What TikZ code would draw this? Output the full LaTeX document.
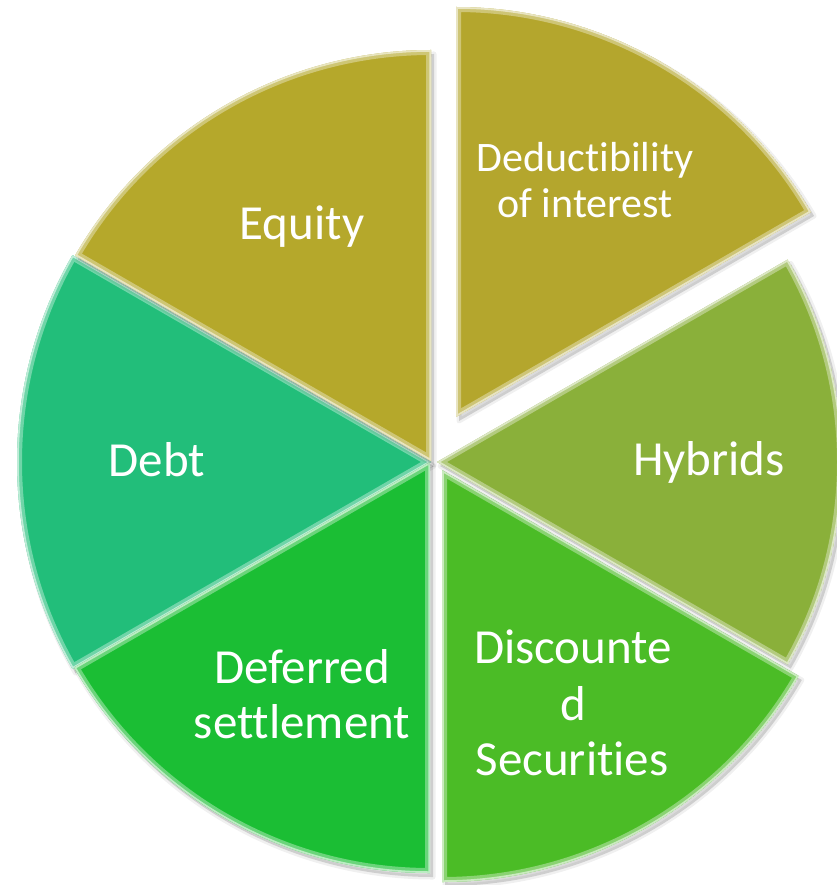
\documentclass[tikz,border=0pt]{standalone}
\usepackage{fontspec}
\setmainfont{Carlito}[Ligatures=NoCommon]
\begin{document}
\begin{tikzpicture}[x=1pt,y=1pt]
  \definecolor{eqcol}{RGB}{181,168,43}
  \definecolor{dedcol}{RGB}{180,166,45}
  \definecolor{hybcol}{RGB}{138,176,58}
  \definecolor{discol}{RGB}{75,188,38}
  \definecolor{defcol}{RGB}{27,190,52}
  \definecolor{debcol}{RGB}{34,190,122}
  \tikzset{
    lbl/.style={text=white, inner sep=0pt, anchor=base,
                font=\fontsize{49}{58}\selectfont},
    lblsm/.style={lbl, font=\fontsize{42}{48}\selectfont}
  }
  % one bevelled wedge: apex x, apex y, radius, start angle, end angle, colour
  \newcommand\pieslice[6]{%
    \begin{scope}[shift={(3,-4)}]
      \fill[black,opacity=.14] (#1,#2) -- ++(#4:#3) arc[start angle=#4,end angle=#5,radius=#3] -- cycle;
      \draw[black,opacity=.06,line width=5pt,line join=round] (#1,#2) -- ++(#4:#3) arc[start angle=#4,end angle=#5,radius=#3] -- cycle;
    \end{scope}
    \begin{scope}
      \clip (#1,#2) -- ++(#4:#3) arc[start angle=#4,end angle=#5,radius=#3] -- cycle;
      \fill[#6] (#1,#2) -- ++(#4:#3) arc[start angle=#4,end angle=#5,radius=#3] -- cycle;
      \draw[#6!50!white,opacity=.7,line width=10pt,line join=miter] (#1,#2) -- ++(#4:#3) arc[start angle=#4,end angle=#5,radius=#3] -- cycle;
      \draw[white,opacity=.55,line width=3.5pt,line join=miter] (#1,#2) -- ++(#4:#3) arc[start angle=#4,end angle=#5,radius=#3] -- cycle;
    \end{scope}}

  \useasboundingbox (0,0) rectangle (836,-885);
  \fill[white] (0,0) rectangle (836,-885);

  % wedges
  \pieslice{431}{-462}{414}{150}{210}{debcol}
  \pieslice{430}{-462}{411}{210}{270}{defcol}
  \pieslice{442}{-470}{412}{-90}{-30}{discol}
  \pieslice{437}{-462}{405}{-30}{30}{hybcol}
  \pieslice{431}{-461}{411}{90}{150}{eqcol}
  \pieslice{456}{-417}{410}{30}{90}{dedcol}

  % labels
  \node[lbl]   (equity) at (302,-240) {Equity};
  \node[lblsm] (ded1)   at (585,-172) {Deductibility};
  \node[lblsm] (ded2)   at (585,-218) {of interest};
  \node[lbl]   (debt)   at (157,-476) {Debt};
  \node[lbl]   (hyb)    at (709,-475) {Hybrids};
  \node[lbl]   (def1)   at (302,-683) {Deferred};
  \node[lbl]   (def2)   at (302,-738) {settlement};
  \node[lbl]   (dis1)   at (573,-663) {Discounte};
  \node[lbl]   (dis2)   at (573,-720) {d};
  \node[lbl]   (dis3)   at (572,-775) {Securities};
\end{tikzpicture}
\end{document}
